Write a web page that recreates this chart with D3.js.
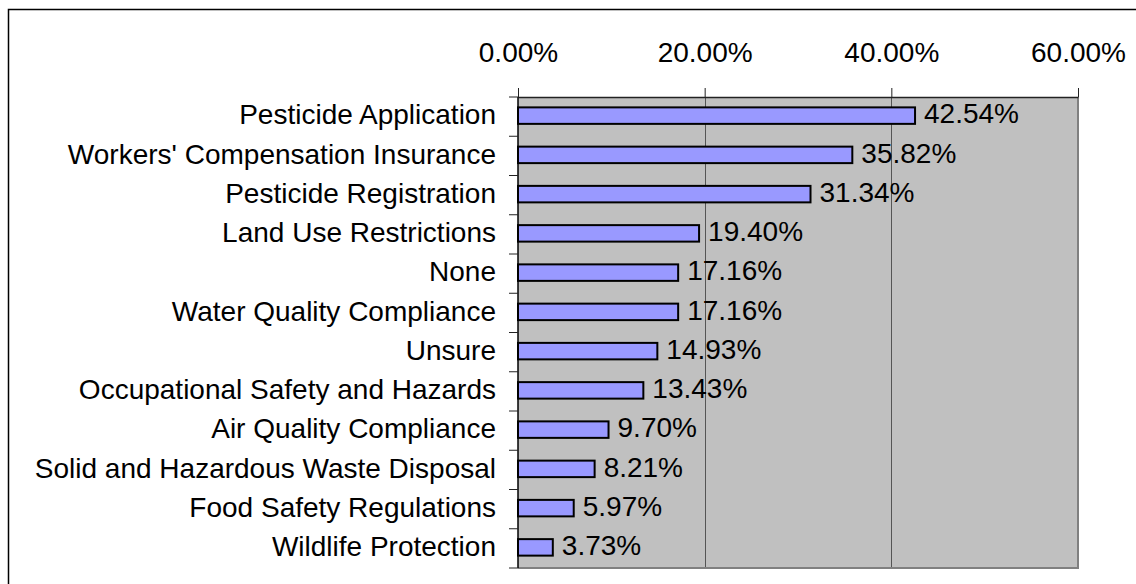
<!DOCTYPE html>
<html>
<head>
<meta charset="utf-8">
<script src="https://cdn.jsdelivr.net/npm/d3@7"></script>
<style>
  html, body { margin: 0; padding: 0; background: #fff; }
  svg { display: block; }
  text { font-family: "Liberation Sans", Arial, sans-serif; fill: #000; }
</style>
</head>
<body>
<svg id="chart" width="1136" height="584"></svg>
<script>
const categories = [
  "Pesticide Application",
  "Workers' Compensation Insurance",
  "Pesticide Registration",
  "Land Use Restrictions",
  "None",
  "Water Quality Compliance",
  "Unsure",
  "Occupational Safety and Hazards",
  "Air Quality Compliance",
  "Solid and Hazardous Waste Disposal",
  "Food Safety Regulations",
  "Wildlife Protection"
];
const values = [42.54, 35.82, 31.34, 19.40, 17.16, 17.16, 14.93, 13.43, 9.70, 8.21, 5.97, 3.73];
const xTicks = [0, 20, 40, 60];

(function () {
const svg = d3.select("#chart");
const W = 1136, H = 584;
const pLeft = 518, pRight = 1078, pTop = 97, pBottom = 568;
const fontSize = 28;

// outer chart border
svg.append("rect")
  .attr("x", 8.5).attr("y", 9.5)
  .attr("width", W + 20).attr("height", H + 20)
  .attr("fill", "#fff").attr("stroke", "#000").attr("stroke-width", 1.5);

const x = d3.scaleLinear().domain([0, 60]).range([pLeft, pRight]);
const y = d3.scaleBand().domain(categories).range([pTop, pBottom])
  .paddingInner(0.58).paddingOuter(0.29);
const step = y.step();
const centerOf = c => y(c) + y.bandwidth() / 2;

// plot area
svg.append("rect")
  .attr("x", pLeft).attr("y", pTop)
  .attr("width", pRight - pLeft).attr("height", pBottom - pTop)
  .attr("fill", "#C0C0C0");

// gridlines
svg.append("g").selectAll("line")
  .data(xTicks.filter(d => d > 0 && d < 60))
  .join("line")
  .attr("x1", d => Math.round(x(d)) + 0.5).attr("x2", d => Math.round(x(d)) + 0.5)
  .attr("y1", pTop).attr("y2", pBottom)
  .attr("stroke", "#555").attr("stroke-width", 1);

// plot border right/bottom
svg.append("path")
  .attr("d", `M${pRight},${pTop} L${pRight},${pBottom} L${pLeft},${pBottom}`)
  .attr("fill", "none").attr("stroke", "#808080").attr("stroke-width", 2);

// bars
svg.append("g").selectAll("rect")
  .data(values)
  .join("rect")
  .attr("x", x(0))
  .attr("y", (d, i) => y(categories[i]) - 1)
  .attr("width", d => x(d) - x(0))
  .attr("height", y.bandwidth())
  .attr("fill", "#9999FF")
  .attr("stroke", "#000")
  .attr("stroke-width", 2);

// data labels
svg.append("g").selectAll("text")
  .data(values)
  .join("text")
  .attr("x", d => x(d) + 9)
  .attr("y", (d, i) => centerOf(categories[i]) - 1)
  .attr("dy", "0.28em")
  .attr("font-size", fontSize)
  .text(d => d.toFixed(2) + "%");

// top axis
const xAxis = d3.axisTop(x).tickValues(xTicks)
  .tickFormat(d => d.toFixed(2) + "%")
  .tickSize(9).tickSizeOuter(0).tickPadding(26);
const gx = svg.append("g").attr("transform", `translate(0,${pTop})`).call(xAxis);
gx.select(".domain").attr("stroke", "#222").attr("stroke-width", 1.5);
gx.selectAll(".tick line").attr("stroke", "#222");
gx.selectAll(".tick text")
  .attr("font-size", fontSize)
  .attr("font-family", '"Liberation Sans", Arial, sans-serif')
  .attr("fill", "#000");

// left axis (category) with ticks at band boundaries
const gy = svg.append("g");
gy.append("line")
  .attr("x1", pLeft).attr("x2", pLeft)
  .attr("y1", pTop).attr("y2", pBottom)
  .attr("stroke", "#000").attr("stroke-width", 1.5);
const boundaries = d3.range(categories.length + 1).map(i => pTop + i * step);
gy.selectAll("line.tk")
  .data(boundaries)
  .join("line").attr("class", "tk")
  .attr("x1", pLeft - 9).attr("x2", pLeft)
  .attr("y1", d => d).attr("y2", d => d)
  .attr("stroke", "#222").attr("stroke-width", 1);
gy.selectAll("text")
  .data(categories)
  .join("text")
  .attr("x", 496)
  .attr("y", d => centerOf(d))
  .attr("dy", "0.28em")
  .attr("text-anchor", "end")
  .attr("font-size", fontSize)
  .text(d => d);
})();
</script>
</body>
</html>
